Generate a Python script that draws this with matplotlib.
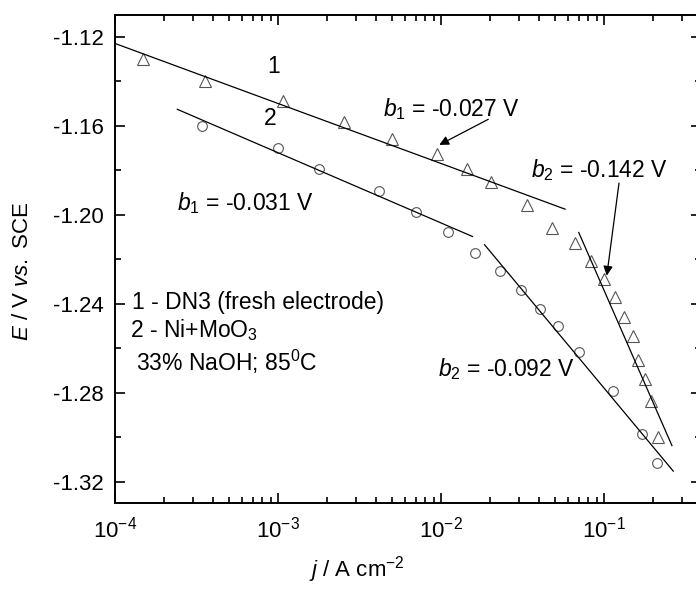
import matplotlib
matplotlib.use("Agg")
import matplotlib.pyplot as plt
from matplotlib.ticker import FixedLocator, LogLocator, MultipleLocator, FormatStrFormatter

plt.rcParams["font.family"] = ["Liberation Sans", "DejaVu Sans"]
plt.rcParams["mathtext.fontset"] = "custom"
plt.rcParams["mathtext.rm"] = "Liberation Sans"
plt.rcParams["mathtext.it"] = "Liberation Sans:italic"
plt.rcParams["axes.unicode_minus"] = False

# curve 1: DN3 (fresh electrode), triangles
j1 = [1.49e-4, 3.56e-4, 1.07e-3, 2.54e-3, 5.04e-3, 9.49e-3, 1.45e-2, 2.03e-2,
      3.36e-2, 4.78e-2, 6.64e-2, 8.28e-2, 0.1004, 0.1173, 0.1332, 0.150,
      0.161, 0.179, 0.194, 0.213]
E1 = [-1.1302, -1.1398, -1.1487, -1.1583, -1.1661, -1.1728, -1.1796, -1.1854,
      -1.1958, -1.2059, -1.2127, -1.2210, -1.2289, -1.2370, -1.2460, -1.2544,
      -1.2655, -1.2738, -1.2836, -1.2999]

# curve 2: Ni+MoO3, circles
j2 = [3.40e-4, 1.00e-3, 1.79e-3, 4.17e-3, 7.00e-3, 1.11e-2, 1.62e-2, 2.30e-2,
      3.11e-2, 4.04e-2, 5.25e-2, 7.06e-2, 0.114, 0.170, 0.212]
E2 = [-1.1600, -1.1698, -1.1795, -1.1893, -1.1987, -1.2079, -1.2170, -1.2255,
      -1.2340, -1.2424, -1.2502, -1.2619, -1.2791, -1.2988, -1.3115]

# Tafel fit segments (end points)
fit1_low_j = [1.0e-4, 0.0577]
fit1_low_E = [-1.1230, -1.1975]
fit1_high_j = [0.0700, 0.261]
fit1_high_E = [-1.2080, -1.3038]
fit2_low_j = [2.41e-4, 1.56e-2]
fit2_low_E = [-1.1526, -1.2098]
fit2_high_j = [1.85e-2, 0.266]
fit2_high_E = [-1.2135, -1.3153]

y_ticks = [-1.32, -1.28, -1.24, -1.20, -1.16, -1.12]

fig = plt.figure(figsize=(6.96, 5.89), dpi=100)
ax = fig.add_axes([115 / 696, 1 - 502.7 / 589, 586 / 696, 487.7 / 589])

mk = dict(linestyle="none", markerfacecolor="none", markeredgecolor="#555555",
          markeredgewidth=0.8)
ax.plot(j1, E1, marker="^", markersize=8.5, **mk)
ax.plot(j2, E2, marker="o", markersize=7, **mk)

for fj, fE in [(fit1_low_j, fit1_low_E), (fit1_high_j, fit1_high_E),
               (fit2_low_j, fit2_low_E), (fit2_high_j, fit2_high_E)]:
    ax.plot(fj, fE, color="black", lw=0.9)

ax.set_xscale("log")
ax.set_xlim(1e-4, 0.3936)
ax.set_ylim(-1.3295, -1.1102)

ax.yaxis.set_major_locator(FixedLocator(y_ticks))
ax.yaxis.set_minor_locator(MultipleLocator(0.02))
ax.yaxis.set_major_formatter(FormatStrFormatter("%.2f"))
ax.xaxis.set_major_locator(LogLocator(base=10, numticks=10))
ax.xaxis.set_minor_locator(LogLocator(base=10, subs=range(2, 10), numticks=10))

ax.tick_params(which="both", direction="in", top=True, right=True,
               labelsize=16, width=1.2)
ax.tick_params(which="major", length=7)
ax.tick_params(which="minor", length=4)
ax.tick_params(axis="y", pad=8)
ax.tick_params(axis="x", pad=10)
for s in ax.spines.values():
    s.set_linewidth(1.4)

ax.set_ylabel(r"$E$ / V $vs.$ SCE", fontsize=16)
ax.yaxis.set_label_coords(-0.14, 0.475)
ax.set_xlabel(r"$j$ / A cm$^{-2}$", fontsize=16)
ax.xaxis.set_label_coords(0.413, -0.105)

fs = 16.5
ax.text(9.35e-4, -1.1335, "1", fontsize=fs, ha="center", va="center")
ax.text(8.93e-4, -1.1566, "2", fontsize=fs, ha="center", va="center")
ax.text(4.41e-3, -1.1556, r"$b_1$ = -0.027 V", fontsize=fs, va="baseline")
ax.text(0.0355, -1.1829, r"$b_2$ = -0.142 V", fontsize=fs, va="baseline")
ax.text(2.39e-4, -1.1978, r"$b_1$ = -0.031 V", fontsize=fs, va="baseline")
ax.text(9.59e-3, -1.2727, r"$b_2$ = -0.092 V", fontsize=fs, va="baseline")
ax.text(1.265e-4, -1.2424, "1 - DN3 (fresh electrode)", fontsize=fs, va="baseline")
ax.text(1.236e-4, -1.2550, r"2 - Ni+MoO$_3$", fontsize=fs, va="baseline")
ax.text(1.346e-4, -1.2704, r"33% NaOH; 85$^0$C", fontsize=fs, va="baseline")

arrow = dict(arrowstyle="-|>", color="black", lw=0.9, mutation_scale=14,
             shrinkA=0, shrinkB=0)
ax.annotate("", xy=(9.76e-3, -1.1686), xytext=(0.0195, -1.1571), arrowprops=arrow)
ax.annotate("", xy=(0.104, -1.2274), xytext=(0.1236, -1.1858), arrowprops=arrow)

fig.savefig("out.png", dpi=100)
